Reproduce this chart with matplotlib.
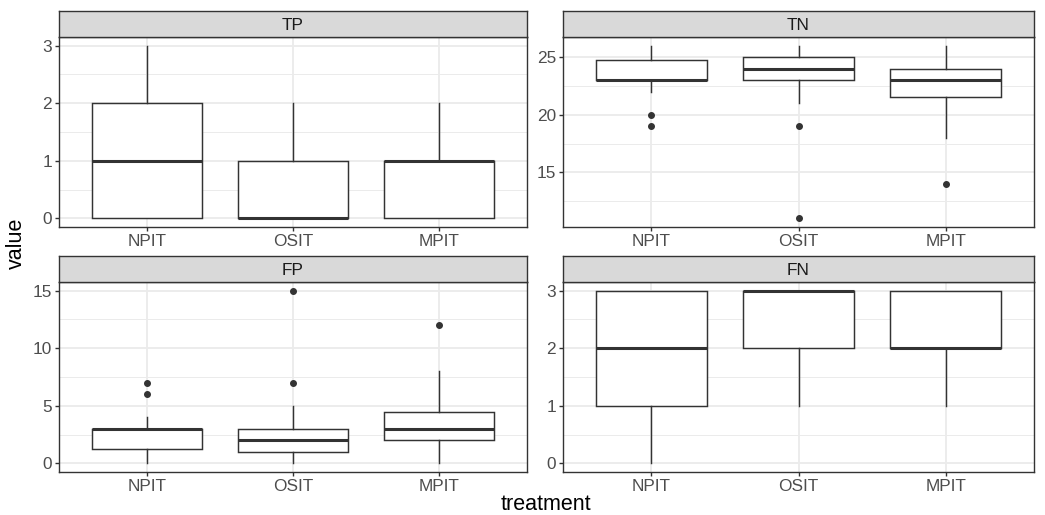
import matplotlib
matplotlib.use("Agg")
import matplotlib.pyplot as plt
from matplotlib.ticker import MultipleLocator

plt.rcParams['font.family'] = ['Liberation Sans', 'DejaVu Sans']

treatments = ["NPIT", "OSIT", "MPIT"]
panels = ["TP", "TN", "FP", "FN"]

# five-number summaries per panel: (whislo, q1, med, q3, whishi)
tp_stats = [(0, 0, 1, 2, 3), (0, 0, 0, 1, 2), (0, 0, 1, 1, 2)]
tn_stats = [(22, 23, 23, 24.75, 26), (21, 23, 24, 25, 26), (18, 21.5, 23, 24, 26)]
fp_stats = [(0, 1.25, 3, 3, 4), (0, 1, 2, 3, 5), (0, 2, 3, 4.5, 8)]
fn_stats = [(0, 1, 2, 3, 3), (1, 2, 3, 3, 3), (1, 2, 2, 3, 3)]

tp_out = [[], [], []]
tn_out = [[20, 19], [19, 11], [14]]
fp_out = [[7, 6], [15, 7], [12]]
fn_out = [[], [], []]

all_stats = {"TP": tp_stats, "TN": tn_stats, "FP": fp_stats, "FN": fn_stats}
all_out = {"TP": tp_out, "TN": tn_out, "FP": fp_out, "FN": fn_out}
major_step = {"TP": 1, "TN": 5, "FP": 5, "FN": 1}

W, H = 1045, 515
fig = plt.figure(figsize=(W / 100, H / 100), dpi=100)

# pixel boxes: (left, right, strip_top, strip_bottom, panel_bottom)
boxes = {
    "TP": (59, 527, 11, 37, 227),
    "TN": (563, 1034, 11, 37, 227),
    "FP": (59, 527, 256, 282, 472),
    "FN": (563, 1034, 256, 282, 472),
}

edge = "#333333"
grid = "#EBEBEB"

for name in panels:
    l, r, st, sb, pb = boxes[name]
    ax = fig.add_axes([l / W, 1 - pb / H, (r - l) / W, (pb - sb) / H])
    sax = fig.add_axes([l / W, 1 - sb / H, (r - l) / W, (sb - st) / H])
    sax.set_facecolor("#D9D9D9")
    sax.set_xticks([])
    sax.set_yticks([])
    for s in sax.spines.values():
        s.set_color(edge)
        s.set_linewidth(1.0)
    sax.text(0.5, 0.45, name, ha="center", va="center", fontsize=12.4,
             color="#1A1A1A", transform=sax.transAxes)

    stats = []
    for (wl, q1, med, q3, wh), fl in zip(all_stats[name], all_out[name]):
        stats.append(dict(whislo=wl, q1=q1, med=med, q3=q3, whishi=wh, fliers=fl))
    ax.bxp(stats, positions=[1, 2, 3], widths=0.75, showcaps=False,
           patch_artist=True,
           boxprops=dict(facecolor="white", edgecolor=edge, linewidth=1.05),
           whiskerprops=dict(color=edge, linewidth=1.05),
           medianprops=dict(color=edge, linewidth=2.2, solid_capstyle="butt"),
           flierprops=dict(marker="o", markerfacecolor=edge, markeredgecolor=edge,
                           markersize=4.0, linestyle="none"),
           zorder=3)

    vals = [v for s in all_stats[name] for v in s] + [v for o in all_out[name] for v in o]
    lo, hi = min(vals), max(vals)
    pad = (hi - lo) * 0.05
    ax.set_ylim(lo - pad, hi + pad)
    ax.set_xlim(0.4, 3.6)
    step = major_step[name]
    ax.yaxis.set_major_locator(MultipleLocator(step))
    ax.yaxis.set_minor_locator(MultipleLocator(step / 2))
    ax.set_xticks([1, 2, 3])
    ax.set_xticklabels(treatments)
    ax.grid(True, which="major", color=grid, linewidth=1.3, zorder=0)
    ax.grid(True, which="minor", axis="y", color=grid, linewidth=0.7, zorder=0)
    ax.set_axisbelow(True)
    ax.tick_params(which="major", length=3, width=1.0, color=edge,
                   labelsize=12.4, labelcolor="#4D4D4D", pad=2)
    ax.tick_params(which="minor", length=0)
    for s in ax.spines.values():
        s.set_color(edge)
        s.set_linewidth(1.0)

fig.text(546 / W, 1 - 505 / H, "treatment", ha="center", va="center", fontsize=15.5)
fig.text(16 / W, 1 - 243 / H, "value", ha="center", va="center", fontsize=15.5,
         rotation=90)

fig.savefig("out.png", dpi=100, facecolor="white")
